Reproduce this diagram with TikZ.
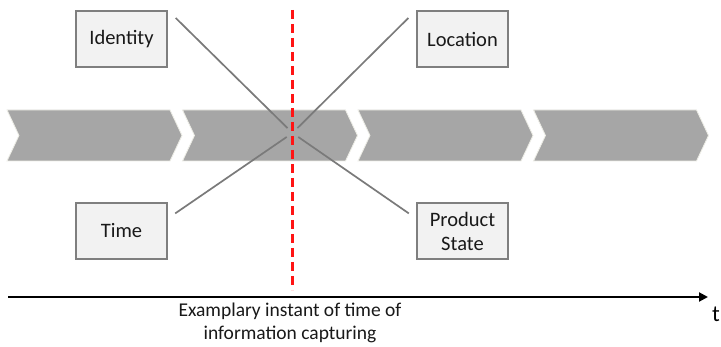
\documentclass[tikz,border=0pt]{standalone}
\usepackage{fontspec}
\setmainfont{Carlito}
\usetikzlibrary{arrows.meta,calc}
\definecolor{chevgray}{HTML}{A6A6A6}
\definecolor{chevedge}{HTML}{EDEDE6}
\definecolor{boxfill}{HTML}{F2F2F2}
\definecolor{boxline}{HTML}{7F7F7F}
\definecolor{linkgray}{HTML}{7A7A7A}
\definecolor{markred}{HTML}{FF1414}
\tikzset{
  infobox/.style={draw=boxline, line width=1.6pt, fill=boxfill, minimum width=91pt,
    minimum height=56pt, inner sep=2pt, align=center, font=\fontsize{20.5}{24}\selectfont,
    text=black!90},
  link/.style={draw=linkgray, line width=1.7pt},
  chevron/.style={fill=chevgray, draw=chevedge, line width=0.8pt},
  instant/.style={draw=markred, line width=3.6pt, dash pattern=on 9pt off 5pt},
  timeaxis/.style={draw=black, line width=2pt, -{Triangle[length=9pt,width=9pt]}},
}
\begin{document}
\begin{tikzpicture}[x=1pt,y=-1pt]
  \useasboundingbox (0,0) rectangle (721,347);
  \fill[white] (0,0) rectangle (721,347);

  % process chevrons
  \foreach \i in {0,1,2,3} {
    \pgfmathsetmacro{\xs}{7+175.5*\i}
    \path[chevron] (\xs,110) -- ++(163,0) -- ++(12,25.5) -- ++(-12,25.5)
      -- ++(-163,0) -- ++(12,-25.5) -- cycle;
  }

  % information boxes
  \node[infobox] (ident) at (121.5,39) {Identity};
  \node[infobox] (loc)   at (462.5,39) {Location};
  \node[infobox] (time)  at (121.5,231) {Time};
  \node[infobox] (state) at (462.5,231) {Product\\State};

  % crossing point of the connectors
  \coordinate (c) at (292.5,133);

  \draw[link, shorten <=11pt, shorten >=7pt] (ident.north east) -- (c);
  \draw[link, shorten <=11pt, shorten >=7pt] (loc.north west) -- (c);
  \draw[link, shorten <=9pt, shorten >=7pt] ([yshift=12.5pt]time.east) -- (c);
  \draw[link, shorten <=9pt, shorten >=7pt] ([yshift=12.5pt]state.west) -- (c);

  % time axis
  \coordinate (axstart) at (8,297);
  \coordinate (axend) at (708,297);
  \draw[timeaxis] (axstart) -- (axend);
  \node[font=\fontsize{23}{25}\selectfont, anchor=base] (tlabel) at (716,322) {t};

  % instant of capturing
  \coordinate (mtop) at (292.5,10);
  \coordinate (mbot) at (292.5,290);
  \draw[instant] (mtop) -- (mbot);
  \node[align=center, font=\fontsize{19.5}{23.5}\selectfont, text=black!90] (caption)
    at (290,323) {Examplary instant of time of\\information capturing};
\end{tikzpicture}
\end{document}
